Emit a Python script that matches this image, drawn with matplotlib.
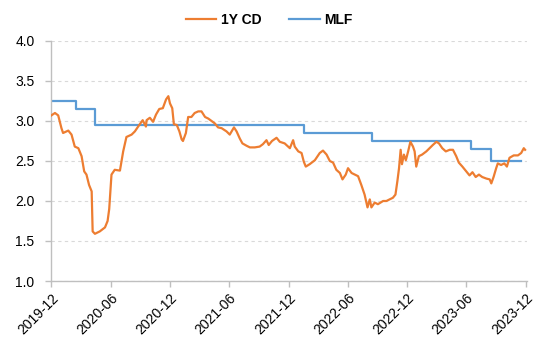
import matplotlib
matplotlib.use("Agg")
import matplotlib.pyplot as plt
import matplotlib.dates as mdates
import pandas as pd

plt.rcParams["font.family"] = ["Liberation Sans", "DejaVu Sans"]

# 1-year interbank certificate of deposit yield (%)
cd_dates = [
    "2019-12-02", "2019-12-13", "2019-12-23", "2020-01-02", "2020-01-07", "2020-01-23",
    "2020-02-02", "2020-02-12", "2020-02-23", "2020-03-04", "2020-03-12", "2020-03-19",
    "2020-03-27", "2020-04-04", "2020-04-07", "2020-04-14", "2020-04-29", "2020-05-15",
    "2020-05-23", "2020-05-28", "2020-06-04", "2020-06-14", "2020-06-30", "2020-07-10",
    "2020-07-20", "2020-08-05", "2020-08-15", "2020-08-25", "2020-09-08", "2020-09-18",
    "2020-09-20", "2020-09-30", "2020-10-10", "2020-10-19", "2020-10-29", "2020-11-09",
    "2020-11-19", "2020-11-26", "2020-12-01", "2020-12-08", "2020-12-13", "2020-12-22",
    "2020-12-30", "2021-01-06", "2021-01-10", "2021-01-19", "2021-01-26", "2021-02-05",
    "2021-02-15", "2021-02-26", "2021-03-08", "2021-03-19", "2021-03-29", "2021-04-08",
    "2021-04-18", "2021-04-28", "2021-05-09", "2021-05-24", "2021-06-03", "2021-06-16",
    "2021-06-24", "2021-07-04", "2021-07-12", "2021-07-25", "2021-08-04", "2021-08-19",
    "2021-09-03", "2021-09-13", "2021-09-24", "2021-10-01", "2021-10-11", "2021-10-25",
    "2021-11-04", "2021-11-19", "2021-12-05", "2021-12-15", "2021-12-20", "2021-12-31",
    "2022-01-10", "2022-01-17", "2022-01-23", "2022-02-04", "2022-02-20", "2022-03-07",
    "2022-03-17", "2022-03-28", "2022-04-07", "2022-04-17", "2022-04-27", "2022-05-08",
    "2022-05-16", "2022-05-26", "2022-06-02", "2022-06-13", "2022-06-23", "2022-07-03",
    "2022-07-13", "2022-07-23", "2022-08-01", "2022-08-08", "2022-08-13", "2022-08-23",
    "2022-09-02", "2022-09-18", "2022-09-28", "2022-10-08", "2022-10-18", "2022-10-26",
    "2022-11-01", "2022-11-06", "2022-11-11", "2022-11-15", "2022-11-21", "2022-11-27",
    "2022-12-04", "2022-12-11", "2022-12-19", "2022-12-24", "2022-12-29", "2023-01-06",
    "2023-01-16", "2023-01-29", "2023-02-08", "2023-02-18", "2023-03-01", "2023-03-09",
    "2023-03-19", "2023-03-30", "2023-04-11", "2023-04-21", "2023-05-01", "2023-05-09",
    "2023-05-20", "2023-06-01", "2023-06-11", "2023-06-20", "2023-06-30", "2023-07-10",
    "2023-07-20", "2023-08-02", "2023-08-12", "2023-08-17", "2023-08-24", "2023-09-01",
    "2023-09-06", "2023-09-16", "2023-09-26", "2023-10-04", "2023-10-12", "2023-10-25",
    "2023-11-07", "2023-11-17", "2023-11-25", "2023-11-29",
]
cd_values = [
    3.07, 3.10, 3.07, 2.91, 2.85, 2.88,
    2.83, 2.68, 2.66, 2.56, 2.37, 2.33,
    2.20, 2.12, 1.62, 1.59, 1.62, 1.67,
    1.75, 1.90, 2.33, 2.39, 2.38, 2.62,
    2.80, 2.83, 2.87, 2.93, 3.01, 2.93,
    3.01, 3.04, 2.99, 3.08, 3.15, 3.16,
    3.27, 3.31, 3.22, 3.16, 2.96, 2.95,
    2.87, 2.77, 2.75, 2.85, 3.05, 3.05,
    3.10, 3.12, 3.12, 3.05, 3.03, 3.00,
    2.97, 2.92, 2.91, 2.87, 2.83, 2.92,
    2.87, 2.78, 2.72, 2.69, 2.67, 2.67,
    2.68, 2.71, 2.76, 2.70, 2.75, 2.79,
    2.74, 2.72, 2.66, 2.76, 2.68, 2.62,
    2.60, 2.49, 2.43, 2.46, 2.51, 2.60,
    2.63, 2.58, 2.50, 2.48, 2.39, 2.35,
    2.27, 2.33, 2.41, 2.35, 2.33, 2.31,
    2.20, 2.08, 1.92, 2.02, 1.92, 1.98,
    1.96, 2.00, 2.00, 2.02, 2.04, 2.08,
    2.25, 2.41, 2.64, 2.46, 2.58, 2.51,
    2.62, 2.74, 2.68, 2.62, 2.43, 2.56,
    2.58, 2.62, 2.66, 2.70, 2.74, 2.72,
    2.66, 2.62, 2.64, 2.64, 2.56, 2.48,
    2.43, 2.37, 2.32, 2.36, 2.30, 2.33,
    2.30, 2.28, 2.27, 2.22, 2.30, 2.41,
    2.47, 2.45, 2.47, 2.43, 2.54, 2.57,
    2.57, 2.60, 2.66, 2.64,
]

# 1-year medium-term lending facility rate (%), effective dates of changes
mlf_dates = ["2019-12-01", "2020-02-17", "2020-04-15", "2022-01-17",
             "2022-08-15", "2023-06-15", "2023-08-15", "2023-11-15"]
mlf_values = [3.25, 3.15, 2.95, 2.85, 2.75, 2.65, 2.50, 2.50]

y_ticks = [1.0, 1.5, 2.0, 2.5, 3.0, 3.5, 4.0]

ORANGE = "#ED7D31"
BLUE = "#5B9BD5"
AXIS_GRAY = "#BFBFBF"

fig = plt.figure(figsize=(5.49, 3.45), dpi=100)
ax = fig.add_axes([0.093, 0.1855, 0.867, 0.6957])

ax.plot(pd.to_datetime(cd_dates), cd_values, color=ORANGE, lw=1.6, label="1Y CD", zorder=3)
ax.plot(pd.to_datetime(mlf_dates), mlf_values, color=BLUE, lw=1.6,
        drawstyle="steps-post", label="MLF", zorder=2)

ax.set_xlim(pd.Timestamp("2019-12-01"), pd.Timestamp("2023-12-05"))
ax.set_ylim(1.0, 4.0)
ax.set_yticks(y_ticks)
ax.set_yticklabels([f"{v:.1f}" for v in y_ticks])

ax.xaxis.set_major_locator(mdates.MonthLocator(bymonth=[6, 12], bymonthday=1))
ax.xaxis.set_major_formatter(mdates.DateFormatter("%Y-%m"))
for lbl in ax.get_xticklabels():
    lbl.set_rotation(45)
    lbl.set_ha("right")
    lbl.set_rotation_mode("anchor")

ax.grid(axis="y", color="#D9D9D9", linestyle=(0, (3, 3)), linewidth=0.8)
ax.set_axisbelow(True)

for side in ("top", "right"):
    ax.spines[side].set_visible(False)
for side in ("left", "bottom"):
    ax.spines[side].set_color(AXIS_GRAY)
    ax.spines[side].set_linewidth(1.0)

ax.tick_params(axis="both", colors=AXIS_GRAY, labelcolor="black",
               labelsize=10, length=4, width=1.0, direction="out")
ax.tick_params(axis="y", pad=8)
ax.tick_params(axis="x", pad=3)

fig.legend(loc="upper center", bbox_to_anchor=(0.49, 1.0), ncol=2, frameon=False,
           prop={"weight": "bold", "size": 10}, handlelength=2.2, handletextpad=0.3,
           columnspacing=2.0)

fig.savefig("out.png", dpi=100)
